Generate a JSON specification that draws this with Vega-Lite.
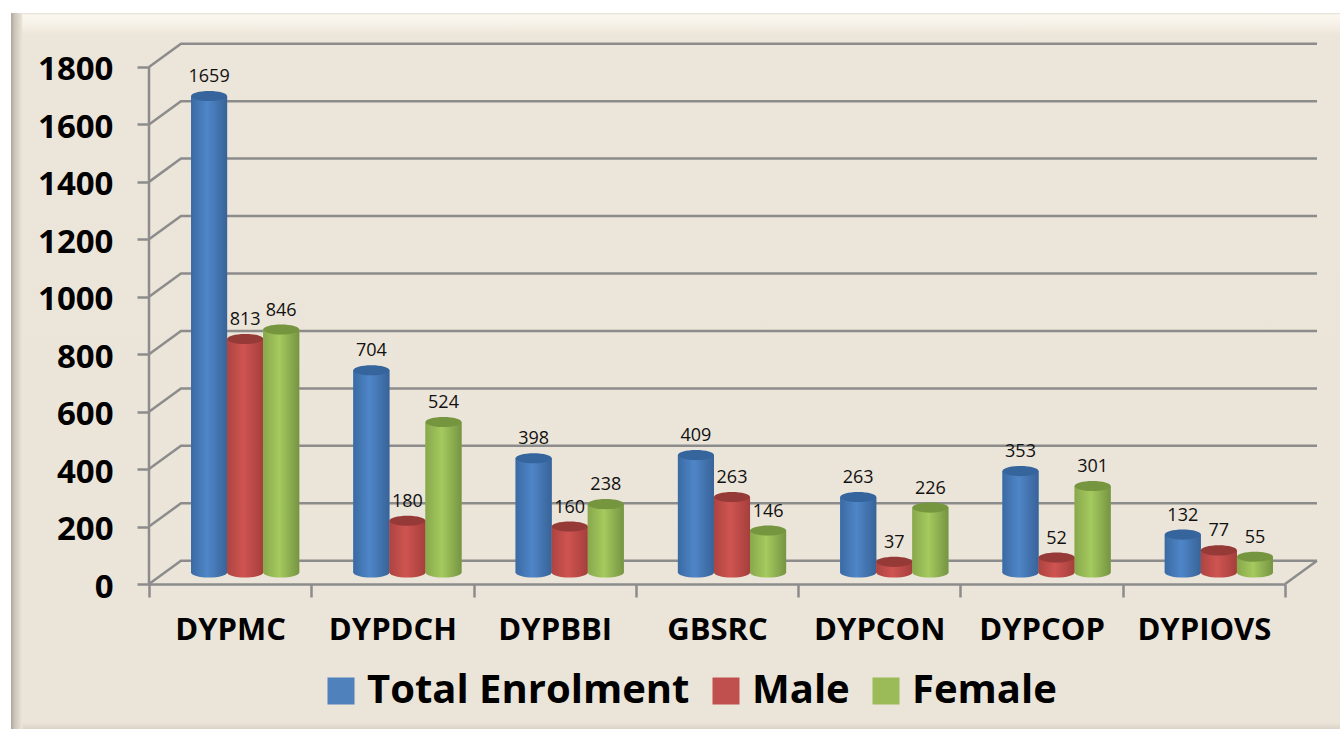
{"$schema":"https://vega.github.io/schema/vega-lite/v6.json","autosize":"none","width":1168,"height":540,"padding":{"left":149,"top":44,"right":23,"bottom":145},"background":"white","view":{"stroke":null},
"title":{"text":"p","font":"Liberation Serif","fontWeight":"bold","fontSize":40,"color":"#c00000","anchor":"start","frame":"group","align":"left","baseline":"alphabetic","offset":0,"dx":723,"dy":-48},
"datasets":{"panel":[{"a":-0.85,"b":7.4,"lo":-520,"hi":1988}],"edge":[{"a":-0.85,"b":-0.78,"lo":-520,"hi":1988}],
"wall":[
{"l":"g0","x":0,"v":0},{"l":"g0","x":0.197,"v":81},{"l":"g0","x":7.197,"v":81},
{"l":"g200","x":0,"v":200},{"l":"g200","x":0.197,"v":281},{"l":"g200","x":7.197,"v":281},
{"l":"g400","x":0,"v":400},{"l":"g400","x":0.197,"v":481},{"l":"g400","x":7.197,"v":481},
{"l":"g600","x":0,"v":600},{"l":"g600","x":0.197,"v":681},{"l":"g600","x":7.197,"v":681},
{"l":"g800","x":0,"v":800},{"l":"g800","x":0.197,"v":881},{"l":"g800","x":7.197,"v":881},
{"l":"g1000","x":0,"v":1000},{"l":"g1000","x":0.197,"v":1081},{"l":"g1000","x":7.197,"v":1081},
{"l":"g1200","x":0,"v":1200},{"l":"g1200","x":0.197,"v":1281},{"l":"g1200","x":7.197,"v":1281},
{"l":"g1400","x":0,"v":1400},{"l":"g1400","x":0.197,"v":1481},{"l":"g1400","x":7.197,"v":1481},
{"l":"g1600","x":0,"v":1600},{"l":"g1600","x":0.197,"v":1681},{"l":"g1600","x":7.197,"v":1681},
{"l":"g1800","x":0,"v":1800},{"l":"g1800","x":0.197,"v":1881},{"l":"g1800","x":7.197,"v":1881},
{"l":"floor","x":7,"v":0},{"l":"floor","x":7.197,"v":81},
{"l":"axis","x":0,"v":0},{"l":"axis","x":0,"v":1800}],
"rows":[
{"c":"DYPMC","s":"Total Enrolment","v":1659},{"c":"DYPMC","s":"Male","v":813},{"c":"DYPMC","s":"Female","v":846},
{"c":"DYPDCH","s":"Total Enrolment","v":704},{"c":"DYPDCH","s":"Male","v":180},{"c":"DYPDCH","s":"Female","v":524},
{"c":"DYPBBI","s":"Total Enrolment","v":398},{"c":"DYPBBI","s":"Male","v":160},{"c":"DYPBBI","s":"Female","v":238},
{"c":"GBSRC","s":"Total Enrolment","v":409},{"c":"GBSRC","s":"Male","v":263},{"c":"GBSRC","s":"Female","v":146},
{"c":"DYPCON","s":"Total Enrolment","v":263},{"c":"DYPCON","s":"Male","v":37},{"c":"DYPCON","s":"Female","v":226},
{"c":"DYPCOP","s":"Total Enrolment","v":353},{"c":"DYPCOP","s":"Male","v":52},{"c":"DYPCOP","s":"Female","v":301},
{"c":"DYPIOVS","s":"Total Enrolment","v":132},{"c":"DYPIOVS","s":"Male","v":77},{"c":"DYPIOVS","s":"Female","v":55}]},
"data":{"name":"rows"},
"resolve":{"scale":{"x":"independent"}},
"layer":[
{"layer":[
{"data":{"name":"panel"},"mark":{"type":"rect","color":{"gradient":"linear","x1":0,"y1":0,"x2":0,"y2":1,"stops":[{"offset":0,"color":"#e4dfd2"},{"offset":0.003,"color":"#fbf8f1"},{"offset":0.018,"color":"#f5f0e6"},{"offset":0.03,"color":"#ece5d9"},{"offset":0.985,"color":"#ebe4d8"},{"offset":1,"color":"#cfc8ba"}]}},
"encoding":{"x":{"field":"a","type":"quantitative","scale":{"domain":[0,7.197],"nice":false,"zero":false},"axis":null},"x2":{"field":"b"},"y":{"field":"lo","type":"quantitative","scale":{"domain":[0,1880],"nice":false,"zero":false},"axis":{"values":[0,200,400,600,800,1000,1200,1400,1600,1800],"format":"d","title":null,"domain":false,"grid":false,"tickColor":"#8c8c8c","tickWidth":2.5,"tickSize":12,"labelFont":"Open Sans","labelFontWeight":"bold","labelFontSize":33,"labelColor":"#000000","labelPadding":24,"labelOffset":3,"zindex":1}},"y2":{"field":"hi"}}},
{"data":{"name":"edge"},"mark":{"type":"rect","color":{"gradient":"linear","x1":0,"y1":0,"x2":1,"y2":0,"stops":[{"offset":0,"color":"#aaa69b"},{"offset":0.3,"color":"#c9c4b7"},{"offset":1,"color":"#ece5d9"}]}},
"encoding":{"x":{"field":"a","type":"quantitative"},"x2":{"field":"b"},"y":{"field":"lo","type":"quantitative"},"y2":{"field":"hi"}}},
{"data":{"name":"wall"},"mark":{"type":"line","color":"#8c8c8c","strokeWidth":2.5,"interpolate":"linear"},
"encoding":{"x":{"field":"x","type":"quantitative"},"y":{"field":"v","type":"quantitative"},"detail":{"field":"l"}}}
]},
{"encoding":{"x":{"field":"c","type":"nominal","sort":null,"scale":{"domain":["DYPMC","DYPDCH","DYPBBI","GBSRC","DYPCON","DYPCOP","DYPIOVS"],"range":[0,1136],"paddingInner":0,"paddingOuter":0},"axis":{"orient":"bottom","title":null,"labelAngle":0,"tickBand":"extent","domainColor":"#8c8c8c","domainWidth":2.5,"tickColor":"#8c8c8c","tickWidth":2.5,"tickSize":13,"labelFont":"Open Sans","labelFontWeight":"bold","labelFontSize":31,"labelColor":"#000000","labelPadding":18,"labelLimit":300,"zindex":1}},
"xOffset":{"field":"s","type":"nominal","sort":null,"scale":{"domain":["Total Enrolment","Male","Female"],"range":[15,177.3],"paddingInner":0,"paddingOuter":0.75}},
"y":{"field":"v","type":"quantitative"}},
"layer":[
{"mark":{"type":"bar","yOffset":-11.5,"y2Offset":-11.5},"encoding":{"color":{"field":"s","type":"nominal","sort":null,"scale":{"domain":["Total Enrolment","Male","Female"],"range":["#4f81bd","#c0504d","#9bbb59"]},"legend":{"orient":"none","legendX":172,"legendY":627,"direction":"horizontal","title":null,"symbolType":"square","symbolSize":729,"symbolStrokeWidth":0,"symbolOpacity":1,"labelFont":"Open Sans","labelFontWeight":"bold","labelFontSize":40,"labelColor":"#000000","labelOffset":6,"labelLimit":500,"columnPadding":16}}}},
{"transform":[{"filter":"datum.s==='Total Enrolment'"}],"layer":[
{"mark":{"type":"point","filled":true,"opacity":1,"size":1296,"strokeWidth":0,"yOffset":-11.5,"shape":"M-1,0A1,0.28 0 1 1 1,0A1,0.28 0 1 1 -1,0Z","color":{"gradient":"linear","x1":0,"y1":0,"x2":1,"y2":0,"stops":[{"offset":0,"color":"#3a6aa3"},{"offset":0.45,"color":"#4f86c8"},{"offset":1,"color":"#386398"}]}},"encoding":{"y":{"datum":0}}},
{"mark":{"type":"bar","yOffset":-11.5,"y2Offset":-11.5,"color":{"gradient":"linear","x1":0,"y1":0,"x2":1,"y2":0,"stops":[{"offset":0,"color":"#3a6aa3"},{"offset":0.45,"color":"#4f86c8"},{"offset":1,"color":"#386398"}]}}},
{"mark":{"type":"point","filled":true,"opacity":1,"size":1296,"strokeWidth":0,"yOffset":-11.5,"shape":"M-1,0A1,0.28 0 1 1 1,0A1,0.28 0 1 1 -1,0Z","color":"#35659c"}}]},
{"transform":[{"filter":"datum.s==='Male'"}],"layer":[
{"mark":{"type":"point","filled":true,"opacity":1,"size":1296,"strokeWidth":0,"yOffset":-11.5,"shape":"M-1,0A1,0.28 0 1 1 1,0A1,0.28 0 1 1 -1,0Z","color":{"gradient":"linear","x1":0,"y1":0,"x2":1,"y2":0,"stops":[{"offset":0,"color":"#ad4441"},{"offset":0.45,"color":"#cf5451"},{"offset":1,"color":"#a53f3c"}]}},"encoding":{"y":{"datum":0}}},
{"mark":{"type":"bar","yOffset":-11.5,"y2Offset":-11.5,"color":{"gradient":"linear","x1":0,"y1":0,"x2":1,"y2":0,"stops":[{"offset":0,"color":"#ad4441"},{"offset":0.45,"color":"#cf5451"},{"offset":1,"color":"#a53f3c"}]}}},
{"mark":{"type":"point","filled":true,"opacity":1,"size":1296,"strokeWidth":0,"yOffset":-11.5,"shape":"M-1,0A1,0.28 0 1 1 1,0A1,0.28 0 1 1 -1,0Z","color":"#963a38"}}]},
{"transform":[{"filter":"datum.s==='Female'"}],"layer":[
{"mark":{"type":"point","filled":true,"opacity":1,"size":1296,"strokeWidth":0,"yOffset":-11.5,"shape":"M-1,0A1,0.28 0 1 1 1,0A1,0.28 0 1 1 -1,0Z","color":{"gradient":"linear","x1":0,"y1":0,"x2":1,"y2":0,"stops":[{"offset":0,"color":"#88a84c"},{"offset":0.45,"color":"#a5ca5e"},{"offset":1,"color":"#769443"}]}},"encoding":{"y":{"datum":0}}},
{"mark":{"type":"bar","yOffset":-11.5,"y2Offset":-11.5,"color":{"gradient":"linear","x1":0,"y1":0,"x2":1,"y2":0,"stops":[{"offset":0,"color":"#88a84c"},{"offset":0.45,"color":"#a5ca5e"},{"offset":1,"color":"#769443"}]}}},
{"mark":{"type":"point","filled":true,"opacity":1,"size":1296,"strokeWidth":0,"yOffset":-11.5,"shape":"M-1,0A1,0.28 0 1 1 1,0A1,0.28 0 1 1 -1,0Z","color":"#75953f"}}]},
{"mark":{"type":"text","font":"Open Sans","fontSize":18,"color":"#111111","yOffset":-30.5},"encoding":{"text":{"field":"v","type":"quantitative"}}}
]}
]}
